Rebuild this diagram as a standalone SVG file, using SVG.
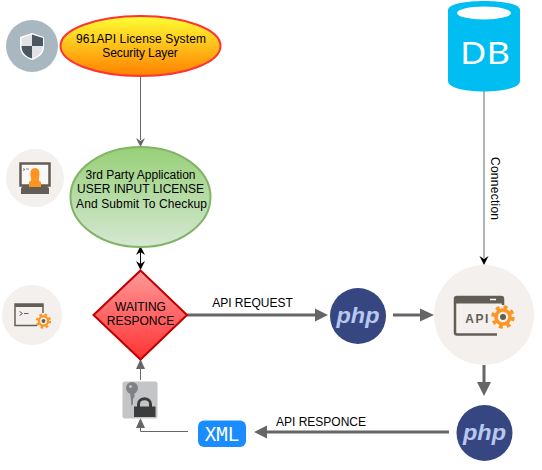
<svg xmlns="http://www.w3.org/2000/svg" width="542" height="470" viewBox="0 0 542 470">
<style>
.t{font-family:"Liberation Sans",Arial,sans-serif;font-size:12px;fill:#000;text-anchor:middle}
.thin{fill:none;stroke:#666;stroke-width:1}
.thick{fill:none;stroke:#666;stroke-width:3}
.ah{fill:#666}
.php{font-family:"Liberation Sans",Arial,sans-serif;font-size:22px;font-weight:700;font-style:italic;fill:#b9c8ee;text-anchor:middle}
.bg{fill:#f3f0ee}
.br{fill:#645d55}
.or{fill:#ff9420}
</style>
<defs>
<linearGradient id="gy" x1="0" y1="0" x2="0" y2="1"><stop offset="0" stop-color="#ffff33"/><stop offset="1" stop-color="#ff8000"/></linearGradient>
<linearGradient id="gg" x1="0" y1="0" x2="0" y2="1"><stop offset="0" stop-color="#97d077"/><stop offset="1" stop-color="#d5e8d4"/></linearGradient>
<linearGradient id="gr" x1="0" y1="0" x2="0" y2="1"><stop offset="0" stop-color="#ff9999"/><stop offset="1" stop-color="#ff3333"/></linearGradient>
<g id="gear"><circle r="7" fill="none" stroke="#ff9420" stroke-width="3.500"/><circle r="10" fill="none" stroke="#ff9420" stroke-width="3.500" stroke-dasharray="3.900 4"/><circle r="3" fill="#645d55"/></g>
</defs>
<g id="connectors">
<path class="thin" d="M140.500 76V140"/><path class="ah" d="M140.500 147L136 138L140.500 141L145 138Z"/>
<path d="M140.500 251V266" stroke="#000" fill="none"/><path d="M140.500 246L136 255L140.500 252L145 255Z"/><path d="M140.500 270L136 261L140.500 264L145 261Z"/>
<path class="thick" d="M187 315H318"/><path class="ah" d="M328 315L315 308.500V321.500Z"/>
<path class="thick" d="M393 315H424"/><path class="ah" d="M434 315L420 308.500V321.500Z"/>
<path class="thick" d="M484 365V386"/><path class="ah" d="M484 396L477 382H491Z"/>
<path class="thick" d="M449 432H262"/><path class="ah" d="M254 432L267 425.500V438.500Z"/>
<path class="thin" d="M188 431.500H140.500V424"/><path class="ah" d="M140.500 418L136 428H145Z"/>
<path class="thin" d="M140.500 380V366"/><path class="ah" d="M140.500 359L136 369H145Z"/>
<path class="thin" d="M484 91V258"/><path d="M484 265L479.500 256L484 259L488.500 256Z"/>
<text class="t" x="252.500" y="307">API REQUEST</text>
<text class="t" x="321" y="426">API RESPONCE</text>
<text class="t" transform="translate(491 188.500) rotate(90)" textLength="63">Connection</text>
</g>
<g id="shield-icon">
<circle cx="32" cy="46" r="26" fill="#a9b7c1"/>
<path d="M32 33L44 37V47C44 54 38 58 32 60C26 58 20 54 20 47V37Z" fill="#fff"/>
<path d="M32 34.500L43 38V46H32ZM32 46V58.500C26.500 57 21.500 53 21.500 46Z" fill="#4a5660"/>
<path d="M32 34.500L21.500 38V46H32ZM32 46V58.500C37.500 57 42.500 53 43 46Z" fill="#dfe3e6"/>
</g>
<g id="license-system">
<ellipse cx="140.500" cy="46" rx="80" ry="30" fill="url(#gy)" stroke="#ff3333" stroke-width="2"/>
<text class="t" x="141" y="43" textLength="130">961API License System</text>
<text class="t" x="140" y="57" textLength="75.500">Security Layer</text>
</g>
<g id="user-icon">
<circle cx="35" cy="178" r="29" class="bg"/>
<rect x="20.500" y="163.500" width="29" height="22" fill="#f9f8f7" stroke="#645d55" stroke-width="2.500"/>
<path d="M21 194V189C21 186.500 25 185 30 185H40C45 185 49 186.500 49 189V194Z" class="br"/>
<path d="M29 187V182C31 181 31.500 180 31 178C29.500 172 31 168 35 168C39 168 40.500 172 39 178C38.500 180 39 181 41 182V187Z" class="or"/>
<path d="M23 168.500l2 1-2 1M26 169h3" fill="none" stroke="#645d55" stroke-width=".7"/>
</g>
<g id="third-party">
<ellipse cx="140.500" cy="197" rx="70" ry="50" fill="url(#gg)" stroke="#82b366" stroke-width="2"/>
<text class="t" x="140.500" y="179" textLength="110">3rd Party Application</text>
<text class="t" x="140.500" y="192.500" textLength="127">USER INPUT LICENSE</text>
<text class="t" x="141.500" y="208" textLength="131">And Submit To Checkup</text>
</g>
<g id="console-icon">
<circle cx="32" cy="315" r="30" class="bg"/>
<path d="M37 325.500H15V304H43V313" fill="none" stroke="#645d55" stroke-width="1.500"/>
<path d="M15 305.500H43" stroke="#645d55" stroke-width="3"/>
<path d="M19.500 311.500l3 2-3 2M24 313.500h4.500" fill="none" stroke="#645d55" stroke-width="1"/>
<use href="#gear" transform="translate(43.500 321) scale(.65)"/>
</g>
<g id="waiting">
<path d="M140.500 270.500L187 315L140.500 359.500L93.500 315Z" fill="url(#gr)" stroke="#c00000" stroke-width="2"/>
<text class="t" x="140.500" y="311">WAITING</text>
<text class="t" x="140.500" y="325">RESPONCE</text>
</g>
<g id="php-request">
<circle cx="358" cy="316" r="28" fill="#354680"/>
<text class="php" x="358" y="322.500" textLength="43" lengthAdjust="spacingAndGlyphs">php</text>
</g>
<g id="api-icon">
<circle cx="484" cy="315" r="50" class="bg"/>
<path d="M497 334.500H457Q455 334.500 455 332.500V299Q455 297 457 297H501Q503 297 503 299V305" fill="none" stroke="#645d55" stroke-width="2.500"/>
<path d="M455 300.500H503" stroke="#645d55" stroke-width="6"/>
<path d="M490 299.500h6" stroke="#fff" stroke-width="1.500"/>
<text x="477.500" y="323" font-family="'Liberation Sans',Arial,sans-serif" font-size="12" font-weight="700" letter-spacing="1.500" fill="#645d55" text-anchor="middle">API</text>
<use href="#gear" transform="translate(503 317)"/>
</g>
<g id="db">
<path d="M448 10C448 -2 520 -2 520 10V81C520 95 448 95 448 81Z" fill="#00bef2"/>
<ellipse cx="484" cy="13" rx="27" ry="6.500" fill="#fff"/>
<text x="485" y="64" font-family="'Noto Sans','Liberation Sans',sans-serif" font-size="31" fill="#fff" text-anchor="middle" textLength="50" lengthAdjust="spacingAndGlyphs">DB</text>
</g>
<g id="php-response">
<circle cx="484.500" cy="433" r="28" fill="#354680"/>
<text class="php" x="484.500" y="439.500" textLength="43" lengthAdjust="spacingAndGlyphs">php</text>
</g>
<g id="xml">
<rect x="198" y="420.500" width="48" height="26.500" rx="6" fill="#1a8cff"/>
<text x="222" y="441" font-family="'DejaVu Sans Mono',monospace" font-size="19" fill="#fff" text-anchor="middle">XML</text>
</g>
<g id="key-lock">
<rect x="122.500" y="381.500" width="35" height="37" rx="2" fill="#c4c5c7"/>
<circle cx="132" cy="388" r="6" fill="#808184"/>
<path d="M130 392H134.500V397L133 399V404L131.500 406Z" fill="#808184"/>
<circle cx="130.500" cy="386.500" r="1.500" fill="#c4c5c7"/>
<rect x="134" y="406.500" width="21.500" height="10.500" fill="#3c3c3c"/>
<path d="M138.500 407V404C138.500 397 150.500 397 150.500 404V407" fill="none" stroke="#3c3c3c" stroke-width="3"/>
</g>
</svg>
